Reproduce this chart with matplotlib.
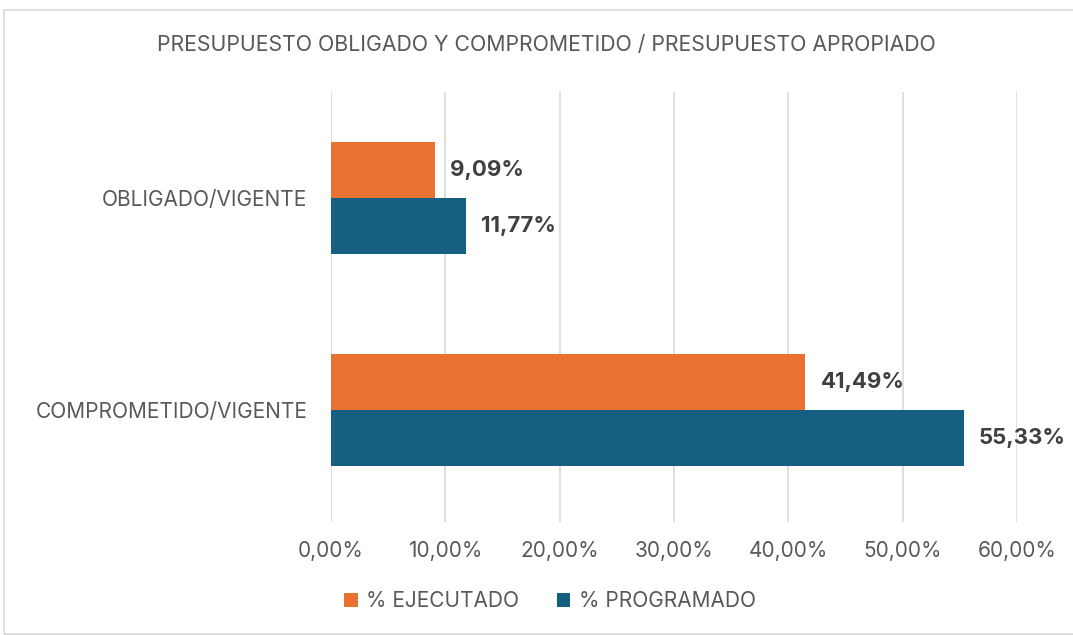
import numpy as np
import matplotlib.pyplot as plt
from matplotlib.patches import Rectangle
from matplotlib.ticker import FuncFormatter

plt.rcParams['font.family'] = ['Inter', 'DejaVu Sans']

categorias = ['COMPROMETIDO/VIGENTE', 'OBLIGADO/VIGENTE']
ejecutado = [41.49, 9.09]
programado = [55.33, 11.77]
series = ['% EJECUTADO', '% PROGRAMADO']
colores = ['#E97132', '#156082']
xticks = [0, 10, 20, 30, 40, 50, 60]

fig = plt.figure(figsize=(10.73, 6.35), dpi=100)
ax = fig.add_axes([331 / 1073, 1 - 522 / 635, (1017 - 331) / 1073, (522 - 92) / 635])

# borde del área del gráfico
fig.patches.append(Rectangle((4 / 1073, 0.002), 1.0, 1 - 10 / 635 - 0.002,
                             transform=fig.transFigure, fill=False,
                             edgecolor='#D9D9D9', linewidth=1.2))

y = np.arange(len(categorias))
h = 0.264
b1 = ax.barh(y + h / 2, ejecutado, height=h, color=colores[0], label=series[0], zorder=3)
b2 = ax.barh(y - h / 2, programado, height=h, color=colores[1], label=series[1], zorder=3)

for barras, vals in ((b1, ejecutado), (b2, programado)):
    for r, v in zip(barras, vals):
        ax.annotate(f'{v:.2f}%'.replace('.', ','),
                    xy=(r.get_width(), r.get_y() + r.get_height() / 2),
                    xytext=(11, 0), textcoords='offset points', va='center', ha='left',
                    fontsize=16, fontweight='bold', color='#404040', annotation_clip=False)

ax.set_xlim(0, 60)
ax.set_ylim(-0.528, 1.5)
ax.set_xticks(xticks)
ax.xaxis.set_major_formatter(FuncFormatter(lambda v, p: f'{v:.2f}%'.replace('.', ',')))
ax.set_yticks(y)
ax.set_yticklabels(categorias)
ax.tick_params(axis='both', length=0, labelsize=15, labelcolor='#595959')
ax.tick_params(axis='x', pad=14)
ax.tick_params(axis='y', pad=17)
ax.grid(axis='x', color='#D9D9D9', linewidth=1.2, zorder=0)
for s in ax.spines.values():
    s.set_visible(False)

fig.text(546 / 1073, 1 - 45 / 635, 'PRESUPUESTO OBLIGADO Y COMPROMETIDO / PRESUPUESTO APROPIADO',
         ha='center', va='center', fontsize=15.3, color='#595959')

fig.legend(handles=[b1, b2], labels=series, loc='center', ncol=2,
           bbox_to_anchor=(550 / 1073, 1 - 601 / 635), frameon=False,
           fontsize=15, labelcolor='#595959', handlelength=0.65, handleheight=0.65,
           handletextpad=0.4, columnspacing=1.8)

fig.savefig('out.png', dpi=100)
